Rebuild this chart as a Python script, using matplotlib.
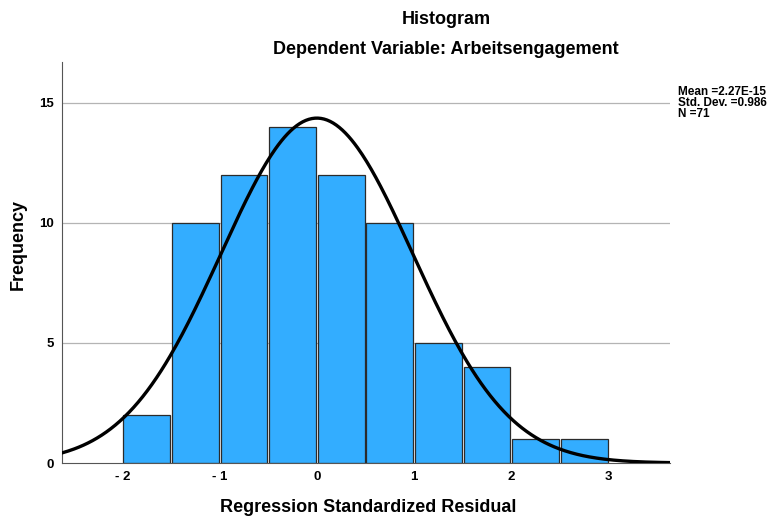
import numpy as np
import matplotlib
matplotlib.use('Agg')
import matplotlib.pyplot as plt

plt.rcParams['font.family'] = ['Liberation Sans', 'DejaVu Sans']

# histogram data
bin_left = [-2.0, -1.5, -1.0, -0.5, 0.0, 0.5, 1.0, 1.5, 2.0, 2.5]
counts = [2, 10, 12, 14, 12, 10, 5, 4, 1, 1]
bin_width = 0.5

# summary statistics shown in the legend
mean = 2.27e-15
std_dev = 0.986
n_cases = 71

xticks = [-2, -1, 0, 1, 2, 3]
xtick_labels = ['- 2', '- 1', '0', '1', '2', '3']
yticks = [0, 5, 10, 15]

fig = plt.figure(figsize=(7.8, 5.18), dpi=100)
ax = fig.add_axes([62 / 780, 1 - 463 / 518, (670 - 62) / 780, (463 - 62) / 518])

ax.set_xlim(-2.62, 3.63)
ax.set_ylim(0, 16.7)

for y in yticks[1:]:
    ax.axhline(y, color='#b4b4b4', lw=0.9, zorder=0)

gap = 0.02
ax.bar(np.array(bin_left) + bin_width / 2, counts, width=bin_width - gap,
       color='#33adff', edgecolor='#2b2b2b', linewidth=0.9, zorder=2)

# fitted normal curve from mean, std dev and N
xs = np.linspace(-2.62, 3.63, 400)
ys = n_cases * bin_width * np.exp(-0.5 * ((xs - mean) / std_dev) ** 2) / (std_dev * np.sqrt(2 * np.pi))
ax.plot(xs, ys, color='black', lw=2.4, zorder=3, solid_capstyle='round')

for side in ['top', 'right']:
    ax.spines[side].set_visible(False)
ax.spines['left'].set_color('#555555')
ax.spines['bottom'].set_color('#555555')

ax.set_xticks(xticks)
ax.set_xticklabels(xtick_labels, fontsize=9.5, fontweight='bold')
ax.set_yticks(yticks)
ax.set_yticklabels([str(v) for v in yticks], fontsize=9.5, fontweight='bold')
ax.tick_params(length=0, pad=6)

fig.text(368 / 780, 1 - 508 / 518, 'Regression Standardized Residual', ha='center', va='center',
         fontsize=13, fontweight='bold')
fig.text(18 / 780, 1 - 245 / 518, 'Frequency', ha='center', va='center', rotation=90,
         fontsize=13, fontweight='bold')

fig.text(446 / 780, 1 - 20 / 518, 'Histogram', ha='center', va='center',
         fontsize=13, fontweight='bold')
fig.text(446 / 780, 1 - 50 / 518, 'Dependent Variable: Arbeitsengagement', ha='center', va='center',
         fontsize=13, fontweight='bold')

legend_lines = ['Mean =2.27E-15', 'Std. Dev. =0.986', 'N =71']
for i, line in enumerate(legend_lines):
    fig.text(678 / 780, 1 - (92 + 11 * i) / 518, line, ha='left', va='center',
             fontsize=8.5, fontweight='bold')

fig.savefig('out.png', dpi=100)
